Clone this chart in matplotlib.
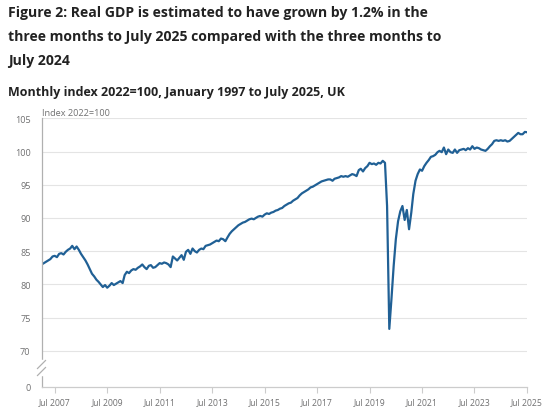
import numpy as np
import pandas as pd
import matplotlib
matplotlib.use("Agg")
import matplotlib.pyplot as plt
import matplotlib.dates as mdates
from matplotlib.lines import Line2D

plt.rcParams['font.family'] = ['Open Sans', 'DejaVu Sans']

# monthly GDP index, 2022=100 (Jan 2007 - Jul 2025)
gdp_2007 = [83.0, 83.2, 83.4, 83.6, 83.8, 84.2, 84.3, 84.1, 84.6, 84.7, 84.5, 84.9]
gdp_2008 = [85.2, 85.4, 85.8, 85.3, 85.7, 85.2, 84.6, 84.1, 83.6, 83.0, 82.3, 81.6]
gdp_2009 = [81.2, 80.7, 80.4, 80.0, 79.6, 79.9, 79.5, 79.8, 80.2, 79.9, 80.1, 80.3]
gdp_2010 = [80.5, 80.2, 81.4, 81.9, 81.7, 82.1, 82.3, 82.2, 82.5, 82.7, 83.0, 82.6]
gdp_2011 = [82.3, 82.8, 82.9, 82.5, 82.6, 82.9, 83.2, 83.1, 83.3, 83.2, 83.0, 82.6]
gdp_2012 = [84.2, 83.9, 83.6, 84.0, 84.4, 83.7, 84.9, 85.2, 84.6, 85.4, 85.0, 84.8]
gdp_2013 = [85.2, 85.4, 85.3, 85.8, 85.9, 86.0, 86.2, 86.4, 86.6, 86.5, 86.9, 86.8]
gdp_2014 = [86.5, 87.1, 87.6, 88.0, 88.3, 88.6, 88.9, 89.1, 89.3, 89.4, 89.6, 89.8]
gdp_2015 = [89.9, 89.8, 90.0, 90.2, 90.3, 90.2, 90.5, 90.7, 90.6, 90.8, 90.9, 91.1]
gdp_2016 = [91.2, 91.4, 91.5, 91.8, 92.0, 92.2, 92.3, 92.6, 92.8, 93.0, 93.4, 93.7]
gdp_2017 = [93.9, 94.1, 94.3, 94.6, 94.7, 94.9, 95.1, 95.3, 95.5, 95.6, 95.7, 95.8]
gdp_2018 = [95.8, 95.6, 95.9, 96.0, 96.1, 96.3, 96.2, 96.3, 96.2, 96.4, 96.6, 96.5]
gdp_2019 = [96.3, 97.2, 97.4, 97.0, 97.5, 97.8, 98.3, 98.1, 98.2, 98.0, 98.3, 98.2]
gdp_2020 = [98.6, 98.3, 91.8, 73.3, 77.8, 82.8, 86.8, 89.5, 91.0, 91.8, 89.7, 91.2]
gdp_2021 = [88.3, 90.8, 93.6, 95.6, 96.6, 97.3, 97.1, 97.8, 98.3, 98.7, 99.2, 99.3]
gdp_2022 = [99.5, 99.9, 100.1, 99.9, 100.6, 99.6, 100.3, 99.9, 99.8, 100.3, 99.8, 100.2]
gdp_2023 = [100.3, 100.4, 100.2, 100.5, 100.3, 100.8, 100.4, 100.6, 100.5, 100.3, 100.2, 100.1]
gdp_2024 = [100.4, 100.8, 101.1, 101.6, 101.7, 101.6, 101.7, 101.6, 101.7, 101.5, 101.6, 101.9]
gdp_2025 = [102.2, 102.5, 102.8, 102.6, 102.6, 102.95, 102.9]

y_ticks = [70, 75, 80, 85, 90, 95, 100, 105]
x_tick_years = list(range(2007, 2026, 2))

gdp = (gdp_2007 + gdp_2008 + gdp_2009 + gdp_2010 + gdp_2011 + gdp_2012 + gdp_2013
       + gdp_2014 + gdp_2015 + gdp_2016 + gdp_2017 + gdp_2018 + gdp_2019 + gdp_2020
       + gdp_2021 + gdp_2022 + gdp_2023 + gdp_2024 + gdp_2025)
dates = pd.date_range('2007-01-01', periods=len(gdp), freq='MS')

# broken axis: "0" sits a little below 70
y_zero = 64.63

W, H = 550, 414
fig = plt.figure(figsize=(W / 100, H / 100), dpi=100)
ax = fig.add_axes([41.7 / W, 1 - 387.5 / H, (527 - 41.7) / W, (387.5 - 119.3) / H])

ax.plot(dates, gdp, color='#206095', lw=1.6, solid_joinstyle='round')

ax.set_xlim(dates[0], dates[-1])
ax.set_ylim(y_zero, 105)

ax.set_yticks([y_zero] + y_ticks)
ax.set_yticklabels(['0'] + [str(v) for v in y_ticks])
ax.tick_params(axis='y', length=0, pad=8, labelsize=6.6, labelcolor='#707071')
ax.grid(axis='y', color='#e4e4e4', lw=0.8)
ax.yaxis.get_gridlines()[0].set_visible(False)
ax.set_axisbelow(True)

xt = [pd.Timestamp(f'{yr}-07-01') for yr in x_tick_years]
ax.set_xticks(xt)
ax.set_xticklabels([f'Jul {yr}' for yr in x_tick_years])
ax.tick_params(axis='x', length=4, width=0.8, color='#cccccc', pad=4,
               labelsize=6.2, labelcolor='#707071')

for s in ['top', 'right']:
    ax.spines[s].set_visible(False)
ax.spines['left'].set_color('#b0b0b0')
ax.spines['bottom'].set_color('#cccccc')
ax.spines['left'].set_linewidth(0.9)
ax.spines['bottom'].set_linewidth(0.9)

# axis break marks on the left spine
def px(x, y):
    return x / W, 1 - y / H

fig.add_artist(Line2D(*zip(px(41.7, 362), px(41.7, 375)), color='white', lw=2.5))
for yc in [365.5, 372.5]:
    (x0, y0), (x1, y1) = px(37.5, yc + 4), px(45.5, yc - 4)
    fig.add_artist(Line2D([x0, x1], [y0, y1], color='#b0b0b0', lw=0.9))

fig.text(42 / W, 1 - 116.5 / H, 'Index 2022=100', fontsize=6.6, color='#707071',
         va='baseline', ha='left')

title_lines = ['Figure 2: Real GDP is estimated to have grown by 1.2% in the',
               'three months to July 2025 compared with the three months to',
               'July 2024']
for i, line in enumerate(title_lines):
    fig.text(8 / W, 1 - (16.5 + 24.5 * i) / H, line, fontsize=10.1, fontweight='bold',
             color='#222222', va='baseline', ha='left')
fig.text(8 / W, 1 - 96 / H, 'Monthly index 2022=100, January 1997 to July 2025, UK',
         fontsize=9.0, fontweight='bold', color='#222222', va='baseline', ha='left')

fig.savefig('out.png', dpi=100)
